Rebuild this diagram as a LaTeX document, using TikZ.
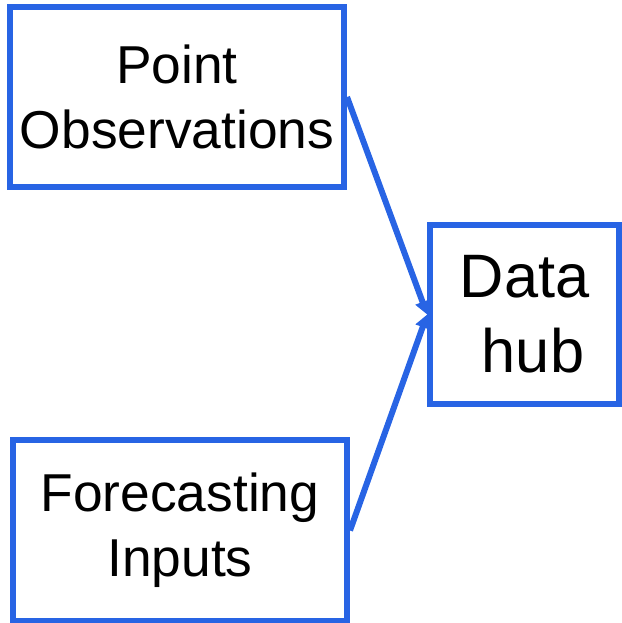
\documentclass[tikz,border=0pt]{standalone}
\usepackage{fontspec}
\setmainfont{Liberation Sans}
\usetikzlibrary{arrows.meta}
\definecolor{hubblue}{RGB}{40,100,228}
\begin{document}
\begin{tikzpicture}
  [x=0.75pt, y=-0.75pt]
  \tikzstyle{box} = [draw=hubblue, line width=4.5pt, align=center, inner sep=0pt];
  \tikzstyle{source_box} = [box, minimum width=250.5pt, minimum height=135.5pt, font=\fontsize{40}{49}\selectfont];
  \tikzstyle{hub_box} = [box, minimum width=141.5pt, minimum height=134.5pt, font=\fontsize{46}{56}\selectfont];
  \tikzstyle{feed} = [draw=hubblue, line width=4.5pt, -{Triangle[length=10pt, width=11pt]}];

  \useasboundingbox (0, 0) rectangle (621, 623);

  \node[source_box] (obs) at (177, 97) {Point\\Observations};
  \node[source_box] (fcst) at (180, 530.5) {Forecasting\\Inputs};

  \node[hub_box] (hub) at (524.5, 314.5) {Data\\\ hub};

  \draw[feed] (obs.east) -- (hub.west);
  \draw[feed] (fcst.east) -- (hub.west);

\end{tikzpicture}
\end{document}
